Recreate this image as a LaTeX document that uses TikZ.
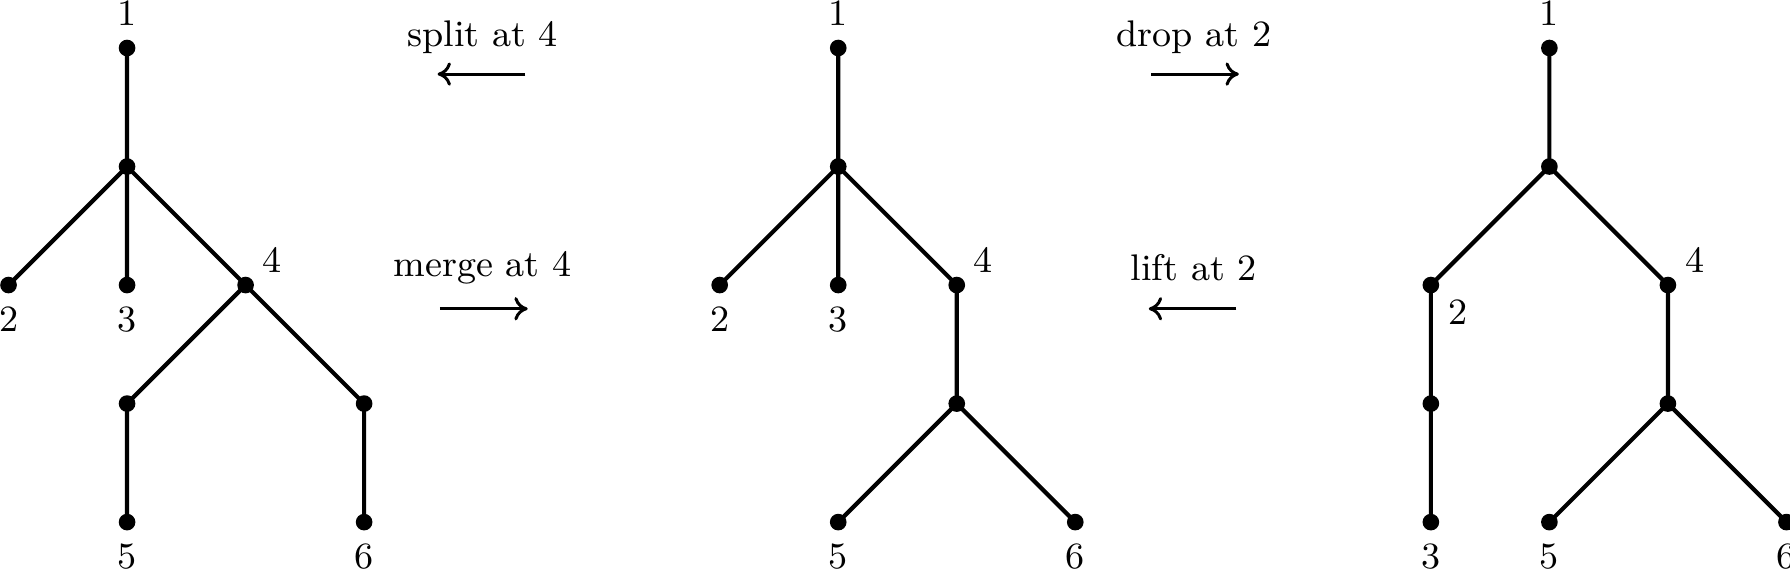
\documentclass[tikz,border=0pt]{standalone}
\usepackage{amsmath, amssymb}
\usetikzlibrary{arrows.meta}

\tikzset{
  up/.style={label={[inner sep=1.5pt,label distance=3.4pt]above:#1}},
  down/.style={label={[inner sep=1.5pt,label distance=3.3pt]below:#1}},
  upright/.style={label={[inner sep=1.5pt,label distance=1.3pt,xshift=1.2pt]above right:#1}},
  downright/.style={label={[inner sep=1.5pt,label distance=2.3pt,xshift=0.5pt]below right:#1}},
  move/.style={line width=0.72pt, arrows={-Computer Modern Rightarrow[length=3.2pt,width=5.6pt]}}
}

\begin{document}
\begin{tikzpicture}[line width=1pt, font=\fontsize{8.9}{11}\selectfont]
        \useasboundingbox (-1.072,-4.414) rectangle (14.03,0.405);
        % first tree
        \coordinate [up=1] (A1) at (0,0);
        \coordinate (A0) at (0,-1);
        \coordinate [down=2] (A2) at (-1,-2);
        \coordinate [down=3] (A3) at (0,-2);
        \coordinate [upright=4] (A4) at (1,-2);
        \coordinate (A7) at (0,-3);
        \coordinate (A8) at (2,-3);
        \coordinate [down=5] (A5) at (0,-4);
        \coordinate [down=6] (A6) at (2,-4);
        \draw (A1) -- (A0) (A0) -- (A2) (A0) -- (A3) (A0) -- (A4);
        \draw (A4) -- (A7) -- (A5) (A4) -- (A8) -- (A6);
        \fill (A1) circle (2pt) (A0) circle (2pt) (A2) circle (2pt) (A3) circle (2pt) (A4) circle (2pt);
        \fill (A7) circle (2pt) (A8) circle (2pt) (A5) circle (2pt) (A6) circle (2pt);
        % second tree
        \coordinate [up=1] (B1) at (6,0);
        \coordinate (B0) at (6,-1);
        \coordinate [down=2] (B2) at (5,-2);
        \coordinate [down=3] (B3) at (6,-2);
        \coordinate [upright=4] (B4) at (7,-2);
        \coordinate (B7) at (7,-3);
        \coordinate [down=5] (B5) at (6,-4);
        \coordinate [down=6] (B6) at (8,-4);
        \draw (B1) -- (B0) (B0) -- (B2) (B0) -- (B3) (B0) -- (B4);
        \draw (B4) -- (B7) (B7) -- (B5) (B7) -- (B6);
        \fill (B1) circle (2pt) (B0) circle (2pt) (B2) circle (2pt) (B3) circle (2pt) (B4) circle (2pt);
        \fill (B7) circle (2pt) (B5) circle (2pt) (B6) circle (2pt);
        % third tree
        \coordinate [up=1] (C1) at (12,0);
        \coordinate (C0) at (12,-1);
        \coordinate [downright=2] (C2) at (11,-2);
        \coordinate [upright=4] (C4) at (13,-2);
        \coordinate (C7) at (11,-3);
        \coordinate (C8) at (13,-3);
        \coordinate [down=3] (C3) at (11,-4);
        \coordinate [down=5] (C5) at (12,-4);
        \coordinate [down=6] (C6) at (14,-4);
        \draw (C1) -- (C0) (C0) -- (C2) (C0) -- (C4);
        \draw (C2) -- (C7) -- (C3) (C4) -- (C8) (C8) -- (C5) (C8) -- (C6);
        \fill (C1) circle (2pt) (C0) circle (2pt) (C2) circle (2pt) (C4) circle (2pt) (C7) circle (2pt);
        \fill (C8) circle (2pt) (C3) circle (2pt) (C5) circle (2pt) (C6) circle (2pt);
        % moves
        \node [anchor=base] (split) at (3,0.01) {split at 4};
        \node [anchor=base] (merge) at (3,-1.93) {merge at 4};
        \node [anchor=base] (drop) at (9,0.01) {drop at 2};
        \node [anchor=base] (lift) at (9,-1.96) {lift at 2};
        \coordinate (S) at (2.62,-0.22);
        \coordinate (S') at (3.36,-0.22);
        \coordinate (M) at (2.64,-2.2);
        \coordinate (M') at (3.38,-2.2);
        \coordinate (D) at (8.64,-0.22);
        \coordinate (D') at (9.38,-0.22);
        \coordinate (L) at (8.62,-2.2);
        \coordinate (L') at (9.36,-2.2);
        \draw[move] (S') -- (S);
        \draw[move] (M) -- (M');
        \draw[move] (D) -- (D');
        \draw[move] (L') -- (L);
\end{tikzpicture}
\end{document}
